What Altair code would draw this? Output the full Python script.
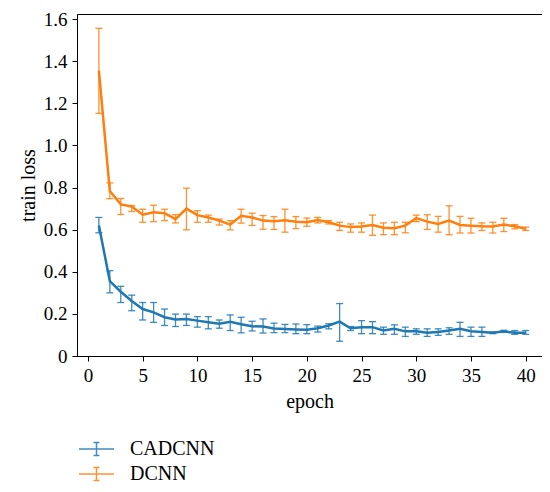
import altair as alt
import pandas as pd

epochs = list(range(1, 41))

cad_mean = [0.620, 0.355, 0.305, 0.261, 0.223, 0.207, 0.184, 0.173, 0.176, 0.168,
            0.160, 0.153, 0.162, 0.151, 0.141, 0.140, 0.131, 0.128, 0.126, 0.125,
            0.132, 0.145, 0.163, 0.132, 0.137, 0.137, 0.121, 0.129, 0.117, 0.118,
            0.110, 0.114, 0.121, 0.129, 0.118, 0.114, 0.110, 0.117, 0.110, 0.110]
cad_low = [0.585, 0.300, 0.254, 0.215, 0.171, 0.160, 0.145, 0.140, 0.145, 0.137,
           0.129, 0.132, 0.121, 0.110, 0.119, 0.109, 0.111, 0.111, 0.106, 0.106,
           0.114, 0.129, 0.070, 0.121, 0.106, 0.106, 0.103, 0.103, 0.093, 0.103,
           0.093, 0.098, 0.103, 0.093, 0.093, 0.093, 0.106, 0.112, 0.103, 0.103]
cad_high = [0.658, 0.405, 0.331, 0.289, 0.254, 0.254, 0.223, 0.199, 0.199, 0.187,
            0.187, 0.171, 0.195, 0.184, 0.165, 0.176, 0.156, 0.150, 0.152, 0.149,
            0.142, 0.153, 0.249, 0.140, 0.168, 0.163, 0.137, 0.148, 0.137, 0.129,
            0.129, 0.129, 0.134, 0.160, 0.137, 0.137, 0.114, 0.122, 0.121, 0.121]

dcnn_mean = [1.355, 0.783, 0.720, 0.710, 0.671, 0.682, 0.678, 0.650, 0.700, 0.669,
             0.658, 0.643, 0.624, 0.666, 0.658, 0.643, 0.640, 0.645, 0.637, 0.635,
             0.646, 0.635, 0.619, 0.612, 0.615, 0.622, 0.609, 0.607, 0.619, 0.655,
             0.638, 0.627, 0.643, 0.622, 0.619, 0.616, 0.615, 0.624, 0.616, 0.604]
dcnn_low = [1.152, 0.747, 0.672, 0.686, 0.635, 0.638, 0.643, 0.632, 0.599, 0.635,
            0.635, 0.622, 0.599, 0.631, 0.620, 0.602, 0.601, 0.588, 0.605, 0.616,
            0.632, 0.627, 0.596, 0.588, 0.588, 0.573, 0.576, 0.576, 0.585, 0.638,
            0.601, 0.588, 0.576, 0.584, 0.584, 0.596, 0.584, 0.591, 0.604, 0.596]
dcnn_high = [1.556, 0.822, 0.748, 0.714, 0.697, 0.716, 0.697, 0.671, 0.797, 0.690,
             0.669, 0.650, 0.643, 0.697, 0.678, 0.667, 0.662, 0.697, 0.662, 0.655,
             0.658, 0.643, 0.635, 0.627, 0.632, 0.669, 0.632, 0.635, 0.635, 0.669,
             0.671, 0.663, 0.713, 0.663, 0.654, 0.632, 0.635, 0.654, 0.624, 0.612]

series = ["CADCNN", "DCNN"]
colors = ["#1f77b4", "#ff7f0e"]

df = pd.concat([
    pd.DataFrame({"epoch": epochs, "mean": cad_mean, "low": cad_low, "high": cad_high, "model": series[0]}),
    pd.DataFrame({"epoch": epochs, "mean": dcnn_mean, "low": dcnn_low, "high": dcnn_high, "model": series[1]}),
])

font = "Liberation Serif"

xscale = alt.Scale(domain=[-1.0, 41.49], nice=False, zero=False)
yscale = alt.Scale(domain=[0, 1.624], nice=False)

xaxis = alt.Axis(values=[0, 5, 10, 15, 20, 25, 30, 35, 40], title="epoch", grid=False,
                 tickSize=5, labelPadding=5, titlePadding=6)
yaxis = alt.Axis(values=[0, 0.2, 0.4, 0.6, 0.8, 1.0, 1.2, 1.4, 1.6], title="train loss", grid=False,
                 tickSize=5, labelPadding=5, titlePadding=5,
                 labelExpr="datum.value == 0 ? '0' : format(datum.value, '.1f')")

color_legend = alt.Legend(
    title=None, orient="none", legendX=8.5, legendY=424,
    symbolType="M-1.75,0H1.75M0,-0.65V0.65M-0.3,-0.65H0.3M-0.3,0.65H0.3",
    symbolSize=400, symbolStrokeWidth=1.5, symbolFillColor="transparent",
    labelFont=font, labelFontSize=20, labelColor="black", labelOffset=22.5,
    rowPadding=4, padding=0,
)
color = alt.Color("model:N", scale=alt.Scale(domain=series, range=colors), legend=color_legend)

base = alt.Chart(df)

bars = base.mark_rule(strokeWidth=1.3, opacity=0.85).encode(
    x=alt.X("epoch:Q", scale=xscale, axis=xaxis),
    y=alt.Y("low:Q", scale=yscale, axis=yaxis),
    y2="high:Q",
    color=color,
)
caps_low = base.mark_tick(orient="horizontal", size=7, thickness=1.3, opacity=0.85).encode(
    x=alt.X("epoch:Q", scale=xscale),
    y=alt.Y("low:Q", scale=yscale),
    color=color,
)
caps_high = base.mark_tick(orient="horizontal", size=7, thickness=1.3, opacity=0.85).encode(
    x=alt.X("epoch:Q", scale=xscale),
    y=alt.Y("high:Q", scale=yscale),
    color=color,
)
lines = base.mark_line(strokeWidth=2.5).encode(
    x=alt.X("epoch:Q", scale=xscale),
    y=alt.Y("mean:Q", scale=yscale),
    color=color,
)

chart = alt.layer(bars, caps_low, caps_high, lines).properties(
    width=465, height=342,
    autosize=alt.AutoSizeParams(type="none"),
    padding={"left": 69, "top": 6, "right": 0, "bottom": 128},
).configure_view(
    stroke="black", strokeWidth=1
).configure_axis(
    labelFont=font, titleFont=font, labelFontSize=19, titleFontSize=20,
    labelColor="black", titleColor="black", titleFontWeight="normal",
    domainColor="black", tickColor="black", domainWidth=1, tickWidth=1,
)

chart.save("out.html", embed_options={"renderer": "svg", "actions": False})
